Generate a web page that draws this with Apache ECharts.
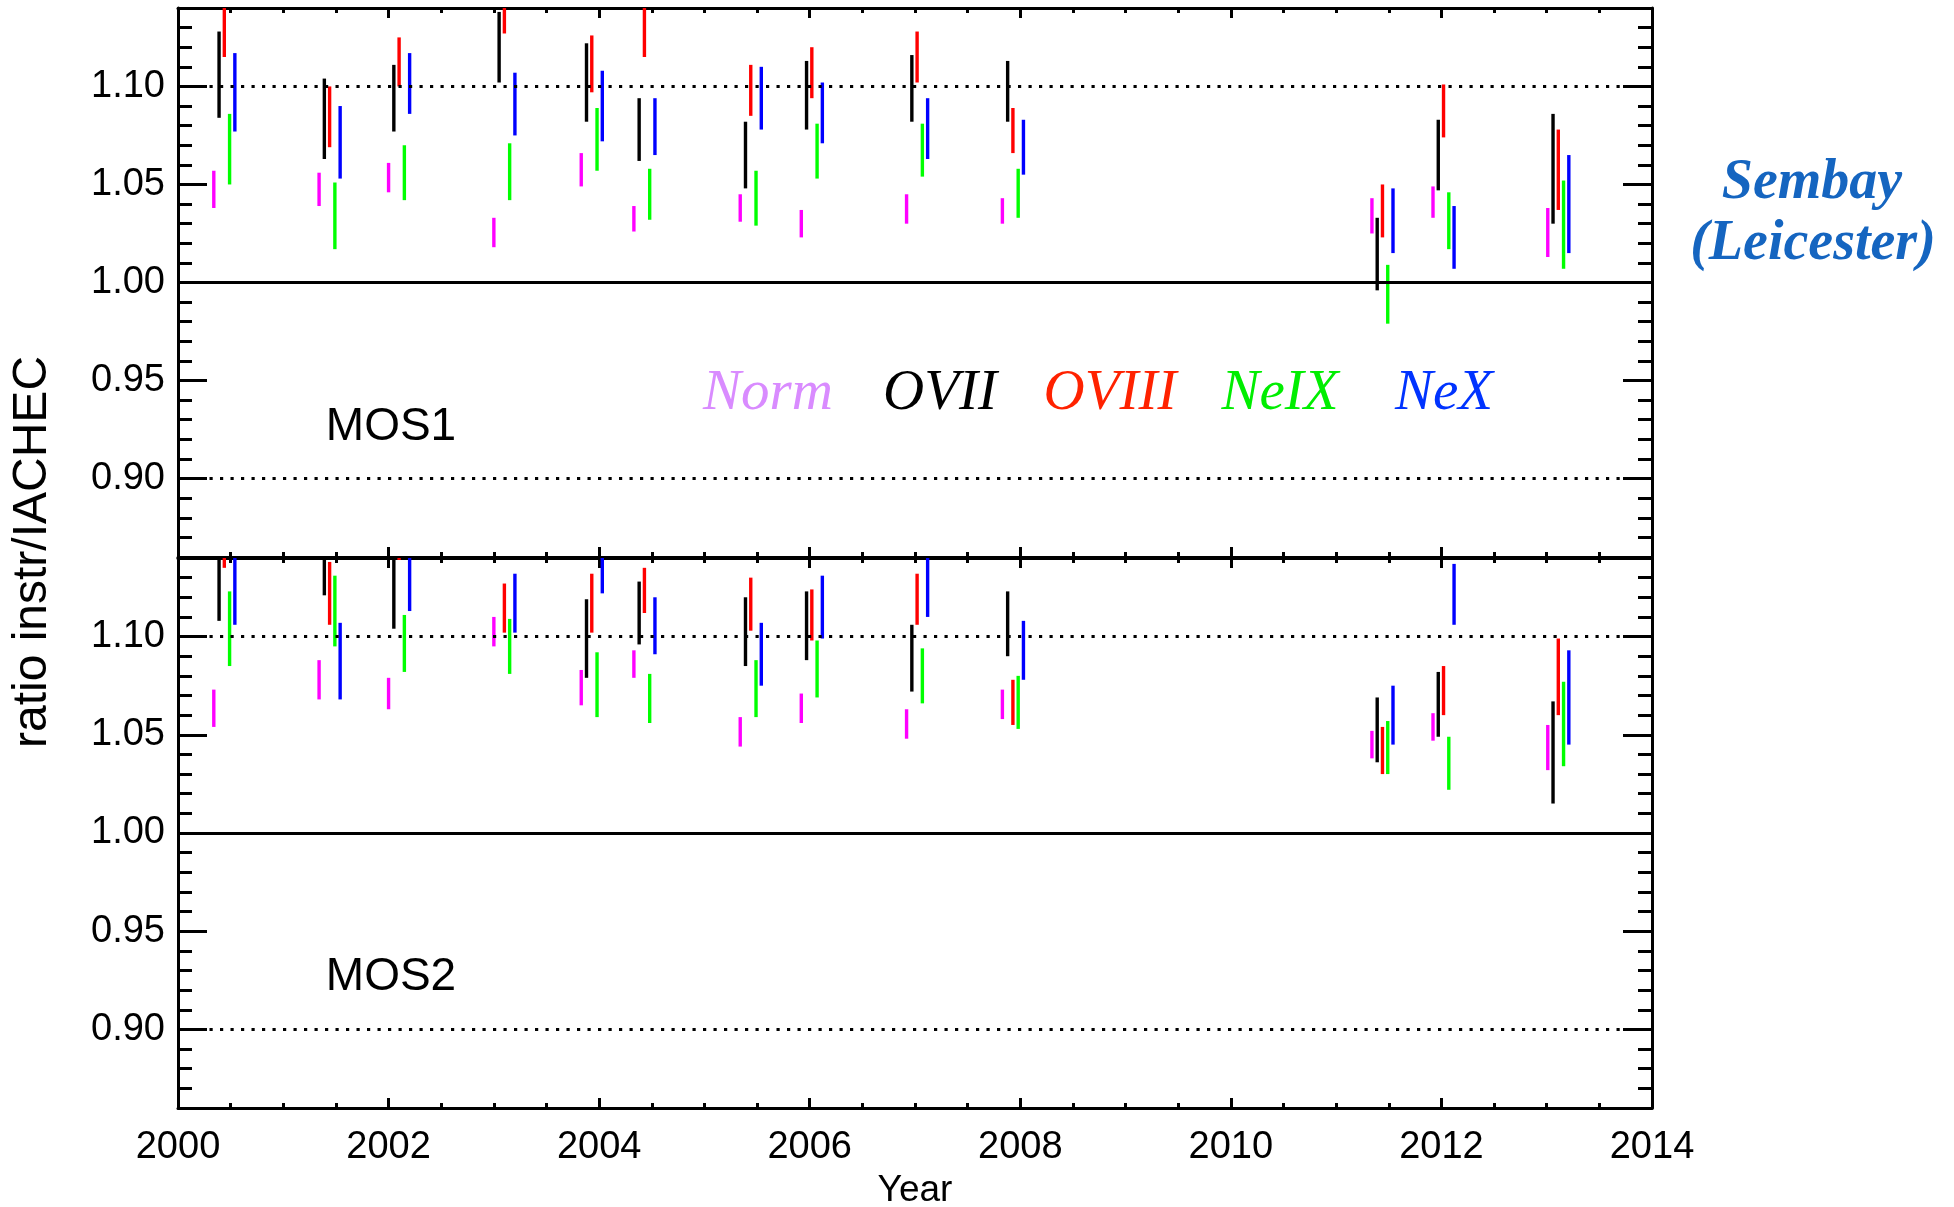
<!DOCTYPE html>
<html><head><meta charset="utf-8">
<script src="https://cdn.jsdelivr.net/npm/echarts@6/dist/echarts.min.js"></script>
<style>html,body{margin:0;padding:0;background:#fff}#c{width:1954px;height:1207px}</style>
</head><body><div id="c"></div>
<script>
// observation epochs (year), one per group
const epochs = [2000.34, 2001.34, 2002.00, 2003.00, 2003.83, 2004.33, 2005.34, 2005.92, 2006.92, 2007.83, 2011.34, 2011.92, 2013.01];
const speciesNames = ['Norm', 'OVII', 'OVIII', 'NeIX', 'NeX'];
// MOS1 ratio ranges [low, high]
const mos1Norm  = [[1.038,1.057],[1.039,1.056],[1.046,1.061],[1.018,1.033],[1.049,1.066],[1.026,1.039],[1.031,1.045],[1.023,1.037],[1.030,1.045],[1.030,1.043],[1.025,1.043],[1.033,1.049],[1.013,1.038]];
const mos1OVII  = [[1.084,1.128],[1.063,1.104],[1.077,1.111],[1.102,1.138],[1.082,1.122],[1.062,1.094],[1.048,1.082],[1.078,1.113],[1.082,1.116],[1.082,1.113],[0.996,1.033],[1.047,1.083],[1.030,1.086]];
const mos1OVIII = [[1.115,1.150],[1.069,1.100],[1.100,1.125],[1.127,1.150],[1.097,1.126],[1.115,1.150],[1.085,1.111],[1.094,1.120],[1.102,1.128],[1.066,1.089],[1.023,1.050],[1.074,1.101],[1.037,1.078]];
const mos1NeIX  = [[1.050,1.086],[1.017,1.051],[1.042,1.070],[1.042,1.071],[1.057,1.089],[1.032,1.058],[1.029,1.057],[1.053,1.081],[1.054,1.081],[1.033,1.058],[0.979,1.009],[1.017,1.046],[1.007,1.052]];
const mos1NeX   = [[1.077,1.117],[1.053,1.090],[1.086,1.117],[1.075,1.107],[1.072,1.108],[1.065,1.094],[1.078,1.110],[1.071,1.102],[1.063,1.094],[1.055,1.083],[1.015,1.048],[1.007,1.039],[1.015,1.065]];
// MOS2 ratio ranges [low, high]
const mos2Norm  = [[1.054,1.073],[1.068,1.088],[1.063,1.079],[1.095,1.110],[1.065,1.083],[1.079,1.093],[1.044,1.059],[1.056,1.071],[1.048,1.063],[1.058,1.073],[1.038,1.052],[1.047,1.061],[1.032,1.055]];
const mos2OVII  = [[1.108,1.150],[1.121,1.150],[1.104,1.150],null,[1.079,1.119],[1.096,1.128],[1.085,1.120],[1.088,1.123],[1.072,1.106],[1.090,1.123],[1.036,1.069],[1.049,1.082],[1.015,1.067]];
const mos2OVIII = [[1.135,1.150],[1.106,1.138],[1.139,1.150],[1.102,1.127],[1.102,1.132],[1.112,1.135],[1.103,1.130],[1.098,1.124],[1.106,1.132],[1.055,1.078],[1.030,1.054],[1.060,1.085],[1.060,1.099]];
const mos2NeIX  = [[1.085,1.123],[1.095,1.131],[1.082,1.111],[1.081,1.109],[1.059,1.092],[1.056,1.081],[1.059,1.088],[1.069,1.098],[1.066,1.094],[1.053,1.080],[1.030,1.057],[1.022,1.049],[1.034,1.077]];
const mos2NeX   = [[1.106,1.150],[1.068,1.107],[1.113,1.150],[1.102,1.132],[1.122,1.150],[1.091,1.120],[1.075,1.107],[1.099,1.131],[1.110,1.150],[1.078,1.108],[1.045,1.075],[1.106,1.137],[1.045,1.093]];
// axes
const yMajorTicks = [0.90, 0.95, 1.00, 1.05, 1.10];
const solidRefLines = [1.00];
const dottedRefLines = [0.90, 1.10];
const panelLabels = ['MOS1', 'MOS2'];

const YMIN = 0.86, YMAX = 1.14;
const speciesColors = ['#ff00ff', '#000000', '#ff0000', '#00ff00', '#0000ff'];
const legendColors = ['#d98bff', '#000000', '#ff2200', '#00ee00', '#0033ff'];
const speciesOffset = [0, 0.05, 0.10, 0.15, 0.20];
const SANS = '"Liberation Sans", Arial, Helvetica, sans-serif';
const SERIF = '"Liberation Serif", "Times New Roman", serif';

const grids = [
  {left: 178, width: 1474, top: 8, height: 549},
  {left: 178, width: 1474, top: 558, height: 550}
];

const axisLineStyle = {color: '#000', width: 3};
const xAxes = [], yAxes = [];
grids.forEach((g, gi) => {
  ['bottom', 'top'].forEach(pos => {
    xAxes.push({
      gridIndex: gi, type: 'value', position: pos, min: 2000, max: 2014, interval: 2,
      axisLine: {show: true, onZero: false, lineStyle: axisLineStyle},
      axisTick: {show: true, inside: true, length: 10, lineStyle: {color: '#000', width: 3}},
      minorTick: {show: true, splitNumber: 4, length: 5, lineStyle: {color: '#000', width: 3}},
      axisLabel: {show: gi === 1 && pos === 'bottom', fontSize: 38, fontFamily: SANS, color: '#000', margin: 21,
                  formatter: v => String(Math.round(v))},
      splitLine: {show: false}, minorSplitLine: {show: false}
    });
  });
  ['left', 'right'].forEach(pos => {
    // minor ticks every 0.01
    yAxes.push({
      gridIndex: gi, type: 'value', position: pos, min: YMIN, max: YMAX, interval: 0.01,
      axisLine: {show: true, onZero: false, lineStyle: axisLineStyle},
      axisTick: {show: true, inside: true, length: 14, lineStyle: {color: '#000', width: 3}},
      axisLabel: {
        show: pos === 'left', fontSize: 38, fontFamily: SANS, color: '#000', margin: 13,
        formatter: v => {
          const k = Math.round(v * 100);
          return yMajorTicks.some(t => Math.round(t * 100) === k) ? (k / 100).toFixed(2) : '';
        }
      },
      splitLine: {show: false}
    });
    // major ticks
    yAxes.push({
      gridIndex: gi, type: 'value', position: pos, min: YMIN, max: YMAX,
      axisLine: {show: false},
      axisTick: {show: true, inside: true, length: 29, customValues: yMajorTicks, lineStyle: {color: '#000', width: 3}},
      axisLabel: {show: false},
      splitLine: {show: false}
    });
  });
});

function barSeries(name, data, s, gi) {
  const color = speciesColors[s];
  const pts = [];
  data.forEach((d, i) => { if (d) pts.push([epochs[i] + speciesOffset[s], d[0], d[1]]); });
  return {
    type: 'custom', name: name, xAxisIndex: gi * 2, yAxisIndex: gi * 4, silent: true,
    data: pts,
    encode: {x: 0, y: [1, 2]},
    renderItem: (params, api) => {
      const x = api.value(0);
      const lo = Math.max(YMIN, api.value(1));
      const hi = Math.min(YMAX, api.value(2));
      const p1 = api.coord([x, lo]);
      const p2 = api.coord([x, hi]);
      return {type: 'line', shape: {x1: p1[0], y1: p1[1], x2: p2[0], y2: p2[1]},
              style: {stroke: color, lineWidth: 3.4, lineCap: 'butt'}};
    }
  };
}

function refSeries(gi) {
  return {
    type: 'line', xAxisIndex: gi * 2, yAxisIndex: gi * 4, data: [], silent: true,
    markLine: {
      silent: true, symbol: 'none', label: {show: false}, animation: false,
      data: [
        ...solidRefLines.map(v => ({yAxis: v, lineStyle: {color: '#000', width: 3, type: 'solid'}})),
        ...dottedRefLines.map(v => ({yAxis: v, lineStyle: {color: '#000', width: 3.2, type: [3.2, 7.3]}}))
      ]
    }
  };
}

const panels = [
  [mos1Norm, mos1OVII, mos1OVIII, mos1NeIX, mos1NeX],
  [mos2Norm, mos2OVII, mos2OVIII, mos2NeIX, mos2NeX]
];
const series = [];
panels.forEach((arrs, gi) => {
  series.push(refSeries(gi));
  arrs.forEach((d, s) => series.push(barSeries(panelLabels[gi] + ' ' + speciesNames[s], d, s, gi)));
});

const legendX = [768, 940, 1110, 1280, 1444];
const graphic = [
  {type: 'text', x: 33, y: 552, rotation: Math.PI / 2,
   style: {text: 'ratio instr/IACHEC', font: '48px ' + SANS, fill: '#000', align: 'center', verticalAlign: 'middle', textAlign: 'center', textVerticalAlign: 'middle'}},
  {type: 'text', x: 915, y: 1191,
   style: {text: 'Year', font: '37px ' + SANS, fill: '#000', align: 'center', verticalAlign: 'middle', textAlign: 'center', textVerticalAlign: 'middle'}},
  {type: 'text', x: 391, y: 427,
   style: {text: panelLabels[0], font: '46px ' + SANS, fill: '#000', align: 'center', verticalAlign: 'middle', textAlign: 'center', textVerticalAlign: 'middle'}},
  {type: 'text', x: 391, y: 977,
   style: {text: panelLabels[1], font: '46px ' + SANS, fill: '#000', align: 'center', verticalAlign: 'middle', textAlign: 'center', textVerticalAlign: 'middle'}},
  {type: 'text', x: 1812, y: 184,
   style: {text: 'Sembay', font: 'italic bold 56px ' + SERIF, fill: '#1565c0', align: 'center', verticalAlign: 'middle', textAlign: 'center', textVerticalAlign: 'middle'}},
  {type: 'text', x: 1813, y: 245,
   style: {text: '(Leicester)', font: 'italic bold 56px ' + SERIF, fill: '#1565c0', align: 'center', verticalAlign: 'middle', textAlign: 'center', textVerticalAlign: 'middle'}}
];
speciesNames.forEach((n, s) => graphic.push({
  type: 'text', x: legendX[s], y: 394,
  style: {text: n, font: 'italic 57px ' + SERIF, fill: legendColors[s], align: 'center', verticalAlign: 'middle', textAlign: 'center', textVerticalAlign: 'middle'}
}));

const chart = echarts.init(document.getElementById('c'), null, {renderer: 'canvas'});
chart.setOption({
  animation: false,
  backgroundColor: '#fff',
  grid: grids,
  xAxis: xAxes,
  yAxis: yAxes,
  series: series,
  graphic: graphic
});
</script></body></html>
